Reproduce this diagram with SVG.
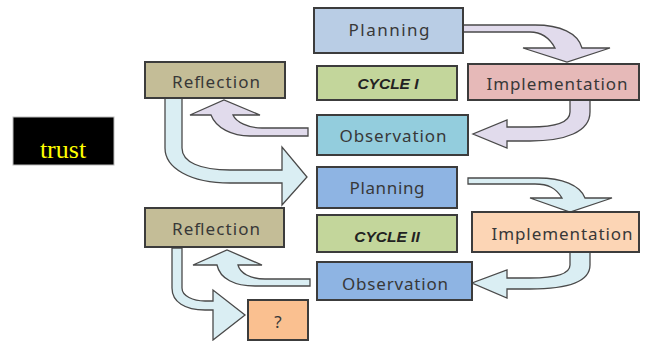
<svg xmlns="http://www.w3.org/2000/svg" width="647" height="341" viewBox="0 0 647 341">
<style>
.box{stroke:#3c3c3c;stroke-width:2}
.t{font-family:"Noto Sans","Liberation Sans",sans-serif;font-size:17px;fill:#383838;text-anchor:middle}
.c{font-family:"Liberation Sans",Arial,sans-serif;font-size:15.5px;font-weight:bold;font-style:italic;fill:#222;text-anchor:middle}
.lav{fill:#e1dbec;stroke:#4a4a4a;stroke-width:1.3}
.lb{fill:#daeef3;stroke:#4a4a4a;stroke-width:1.3}
</style>
<rect width="647" height="341" fill="#fff"/>
<g id="connectors">
<path class="lav" d="M463,25 L535,25 C560,25 578,33 582,48 L610,48 L567,62 L523,48 L555,48 C549,37 541,32 530,32 L463,32 Z"/>
<path class="lav" d="M570,100 L570,112 C570,122 555,127 530,127 L507,127 L507,120 L473,134 L507,148 L507,141 L530,141 C565,141 590,132 590,112 L590,100 Z"/>
<path class="lav" d="M308,128 L262,128 C248,128 236,122 233,115 L260,115 L224,100 L190,115 L211,115 C216,128 232,136 250,136 L308,136 Z"/>
<path class="lb" d="M165,98 L165,148 C165,168 190,183 230,183 L282,183 L282,205 L307,177 L282,147 L282,170 L230,170 C200,170 182,162 182,148 L182,98 Z"/>
<path class="lb" d="M468,178 L538,178 C562,178 580,185 585,198 L612,198 L570,212 L530,198 L562,198 C556,188 548,184 535,184 L468,184 Z"/>
<path class="lb" d="M570,252 L570,265 C570,274 556,278 530,278 L507,278 L507,270 L472,283 L507,298 L507,289 L530,289 C568,289 590,282 590,265 L590,252 Z"/>
<path class="lb" d="M310,279 L265,279 C250,279 240,273 238,265 L262,265 L227,250 L193,265 L217,265 C220,279 235,286 255,286 L310,286 Z"/>
<path class="lb" d="M172,248 L172,288 C172,302 185,310 205,310 L213,310 L213,340 L245,315 L213,290 L213,301 L205,301 C193,301 182,296 182,288 L182,248 Z"/>
</g>
<g id="trust">
<rect x="13" y="117" width="101" height="48" fill="#000" stroke="#bbb" stroke-width="1"/>
<text x="63" y="158" font-family="'Liberation Serif',serif" font-size="26" fill="#ffff00" text-anchor="middle">trust</text>
</g>
<g id="planning1">
<rect class="box" x="314" y="8" width="149" height="45" fill="#b9cde5"/>
<text class="t" x="389" y="36" textLength="81" lengthAdjust="spacing">Planning</text>
</g>
<g id="reflection1">
<rect class="box" x="145" y="62" width="140" height="36" fill="#c4bd97"/>
<text class="t" x="216" y="88" textLength="88" lengthAdjust="spacing">Reflection</text>
</g>
<g id="cycle1">
<rect class="box" x="317" y="66" width="140" height="34" fill="#c3d69b"/>
<text class="c" x="388" y="89">CYCLE I</text>
</g>
<g id="implementation1">
<rect class="box" x="468" y="64" width="171" height="36" fill="#e6b9b8"/>
<text class="t" x="557" y="90" textLength="141" lengthAdjust="spacing">Implementation</text>
</g>
<g id="observation1">
<rect class="box" x="317" y="115" width="151" height="40" fill="#93cddd"/>
<text class="t" x="393" y="142" textLength="107" lengthAdjust="spacing">Observation</text>
</g>
<g id="planning2">
<rect class="box" x="317" y="167" width="140" height="41" fill="#8eb4e3"/>
<text class="t" x="387" y="194" textLength="75" lengthAdjust="spacing">Planning</text>
</g>
<g id="reflection2">
<rect class="box" x="145" y="208" width="139" height="39" fill="#c4bd97"/>
<text class="t" x="216" y="235" textLength="88" lengthAdjust="spacing">Reflection</text>
</g>
<g id="cycle2">
<rect class="box" x="317" y="215" width="140" height="37" fill="#c3d69b"/>
<text class="c" x="387" y="242">CYCLE II</text>
</g>
<g id="implementation2">
<rect class="box" x="472" y="212" width="167" height="40" fill="#fcd5b5"/>
<text class="t" x="562" y="240" textLength="141" lengthAdjust="spacing">Implementation</text>
</g>
<g id="observation2">
<rect class="box" x="317" y="262" width="155" height="38" fill="#8eb4e3"/>
<text class="t" x="395" y="290" textLength="106" lengthAdjust="spacing">Observation</text>
</g>
<g id="question">
<rect class="box" x="248" y="300" width="60" height="40" fill="#fac090"/>
<text class="t" x="278" y="328">?</text>
</g>
</svg>
